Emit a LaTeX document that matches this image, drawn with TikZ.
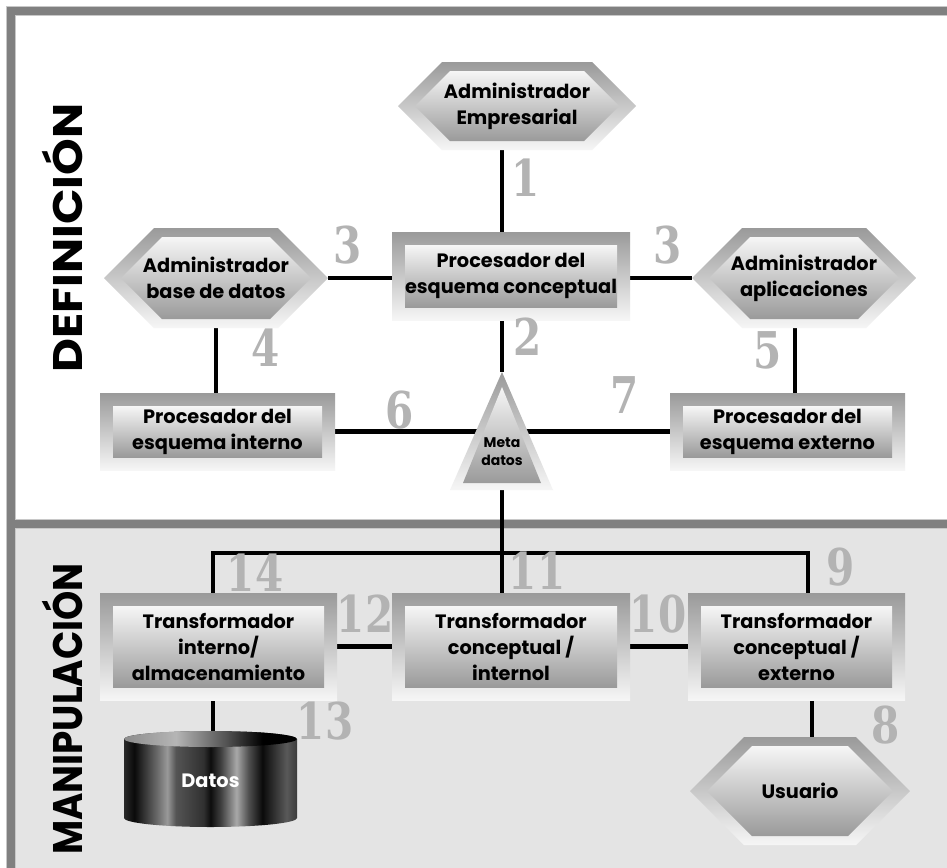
\documentclass[tikz,border=0pt]{standalone}
\usepackage{graphicx}
\usepackage{fontspec}
\newfontfamily\futura{Poppins}
\newfontfamily\stepfont{DejaVu Serif}
\usetikzlibrary{calc}

\definecolor{numgray}{HTML}{B3B3B3}
\definecolor{bordergray}{HTML}{808080}
\definecolor{edgegray}{HTML}{C8C8C8}
\definecolor{panelgray}{HTML}{E4E4E4}
\definecolor{shadedark}{HTML}{9A9A9A}
\definecolor{shadelight}{HTML}{F6F6F6}

% metallic bands of the storage drum
\pgfdeclarehorizontalshading{drumbody}{100bp}{%
  color(0bp)=(black!84); color(25bp)=(black!84); color(28bp)=(black!96);
  color(35bp)=(black!56); color(37.5bp)=(black!40); color(40bp)=(black!67);
  color(48bp)=(black!81); color(50bp)=(black!95); color(53bp)=(black!75);
  color(57.5bp)=(black!34); color(61bp)=(black!69); color(65bp)=(black!96);
  color(72bp)=(black!65); color(75bp)=(black!77); color(100bp)=(black!77)}
\pgfdeclarehorizontalshading{drumtop}{100bp}{%
  color(0bp)=(black!45); color(25bp)=(black!45); color(40bp)=(black!29);
  color(55bp)=(black!69); color(65bp)=(black); color(100bp)=(black)}

\pgfdeclarelayer{panel}
\pgfdeclarelayer{wires}
\pgfsetlayers{panel,wires,main}

\tikzset{
  wire/.style={line width=3.5pt, line join=miter},
  frameout/.style={top color=shadedark, bottom color=shadelight},
  framein/.style={top color=shadelight, bottom color=shadedark},
  lbl/.style={inner sep=0pt, outer sep=0pt, align=center, text=black,
    font=\futura\bfseries\fontsize{14.5}{19.5}\selectfont},
  metalbl/.style={inner sep=0pt, align=center,
    font=\futura\bfseries\fontsize{10.5}{13.5}\selectfont},
  num/.style={inner sep=0pt, text=numgray,
    font=\stepfont\bfseries\fontsize{38}{38}\selectfont},
  secttitle/.style={inner sep=0pt, rotate=90,
    font=\futura\bfseries\fontsize{31}{31}\selectfont},
}
% narrow tall step digits
\newcommand\stepno[1]{\scalebox{0.8}[1]{#1}}

% hexagon given by centre, half width, half height
\newcommand\hexshape[5]{%
  \path[#5] ({#1-(#3)},{#2}) -- ({#1-(#3)+(#4)},{#2-(#4)})
    -- ({#1+(#3)-(#4)},{#2-(#4)}) -- ({#1+(#3)},{#2})
    -- ({#1+(#3)-(#4)},{#2+(#4)}) -- ({#1-(#3)+(#4)},{#2+(#4)}) -- cycle;}
% name, cx, cy, half width, half height, text
\newcommand\panelhex[6]{%
  \hexshape{#2}{#3}{#4}{#5}{frameout}
  \hexshape{#2}{#3}{#4-17}{#5-9}{framein}
  \node[lbl, minimum width={2*(#4)*0.75pt}, minimum height={2*(#5)*0.75pt}]
    (#1) at (#2,#3) {#6};}
% name, x1, y1, x2, y2, text
\newcommand\panelbox[6]{%
  \path[frameout] (#2,#3) rectangle (#4,#5);
  \path[framein] ({#2+13},{#3+13}) rectangle ({#4-13},{#5-13});
  \node[lbl, minimum width={(#4-#2)*0.75pt}, minimum height={(#5-#3)*0.75pt}]
    (#1) at ({(#2+#4)/2},{(#3+#5)/2}) {#6};}

\begin{document}
\begin{tikzpicture}[x=0.75pt, y=-0.75pt]
\useasboundingbox (0,0) rectangle (947,868);

% ---- panels and frame
\begin{pgfonlayer}{panel}
  \fill[white] (0,0) rectangle (947,868);
  \fill[panelgray] (15,524) rectangle (947,868);
  \fill[bordergray] (7,7) rectangle (947,15);
  \fill[bordergray] (7,7) rectangle (15,868);
  \fill[bordergray] (15,520) rectangle (947,528);
  \draw[edgegray, line width=0.75pt] (6.5,868) -- (6.5,6.5) -- (947,6.5);
  \draw[edgegray, line width=0.75pt] (15.5,868) -- (15.5,528.5) -- (947,528.5);
  \draw[edgegray, line width=0.75pt] (15.5,519.5) -- (15.5,15.5) -- (947,15.5);
  \draw[edgegray, line width=0.75pt] (15.5,519.5) -- (947,519.5);
\end{pgfonlayer}

\node[secttitle] (tdef) at (62,238) {\scalebox{1.13}[1]{DEFINICIÓN}};
\node[secttitle] (tman) at (62,709) {\scalebox{0.9}[1]{MANIPULACIÓN}};

% ---- definition layer
\panelhex{ae}{517}{106}{119}{44}{Administrador\\Empresarial}
\panelhex{abd}{216}{278}{112}{50}{Administrador\\base de datos}
\panelhex{aap}{804}{278}{112}{50}{Administrador\\aplicaciones}
\panelbox{pcc}{392}{232}{630}{320}{Procesador del\\esquema conceptual}
\panelbox{pci}{100}{393}{335}{470}{Procesador del\\esquema interno}
\panelbox{pce}{670}{393}{905}{470}{Procesador del\\esquema externo}

% metadata pyramid
\path[frameout] (502,372) -- (553,490) -- (450,490) -- cycle;
\path[framein] (502,387) -- (541,483) -- (463,483) -- cycle;
\node[inner sep=0pt, minimum width={103*0.75pt}, minimum height={118*0.75pt}]
  (meta) at (502,431) {};
\node[metalbl] (metatxt) at (502,452) {Meta\\datos};

% ---- manipulation layer
\panelbox{tia}{100}{593}{337}{700}{Transformador\\interno/\\almacenamiento}
\panelbox{tci}{392}{593}{630}{700}{Transformador\\conceptual /\\internol}
\panelbox{tce}{688}{593}{905}{700}{Transformador\\conceptual /\\externo}
\panelhex{usr}{800}{791}{110}{54}{Usuario}

% storage drum
\shade[shading=drumbody] (124,739) -- (124,818)
  arc[start angle=180, end angle=0, x radius=86.5, y radius=9]
  -- (297,739)
  arc[start angle=360, end angle=180, x radius=86.5, y radius=8] -- cycle;
\shade[shading=drumtop] (210.5,739) ellipse[x radius=86.5, y radius=8];
\node[inner sep=0pt, minimum width={173*0.75pt}, minimum height={96*0.75pt},
  text=white, font=\futura\bfseries\fontsize{14.5}{16}\selectfont]
  (datos) at (210.5,781) {Datos};

% ---- connectors
\coordinate (xr) at (795,0);
\coordinate (xu) at (812,0);
\coordinate (busL) at (213,553);
\coordinate (busR) at (808,553);
\begin{pgfonlayer}{wires}
  \draw[wire] (ae.south -| meta.north) -- (pcc.north -| meta.north);
  \draw[wire] (pcc.south -| meta.north) -- (meta.north);
  \draw[wire] (abd.east) -- (abd.east -| pcc.west);
  \draw[wire] (aap.west -| pcc.east) -- (aap.west);
  \draw[wire] (abd.south) -- (abd.south |- pci.north);
  \draw[wire] (aap.south -| xr) -- (pce.north -| xr);
  \draw[wire] (pci.east) -- (pci.east -| meta.center);
  \draw[wire] (pce.west) -- (pce.west -| meta.center);
  \draw[wire] (meta.south) -- (tci.north -| meta.south);
  \draw[wire] (tia.north -| busL) -- (busL) -- (busR) -- (tce.north -| busR);
  \draw[wire] (tia.east) -- (tci.west);
  \draw[wire] (tci.east) -- (tce.west);
  \draw[wire] (tia.south -| busL) -- (datos.north -| busL);
  \draw[wire] (tce.south -| xu) -- (usr.north -| xu);
\end{pgfonlayer}

% ---- step numbers
\node[num] (n1) at (526,178) {\stepno{1}};
\node[num] (n2) at (528,337) {\stepno{2}};
\node[num] (n3a) at (348,245) {\stepno{3}};
\node[num] (n3b) at (668,245) {\stepno{3}};
\node[num] (n4) at (266,348) {\stepno{4}};
\node[num] (n5) at (768,350) {\stepno{5}};
\node[num] (n6) at (400,410) {\stepno{6}};
\node[num] (n7) at (625,395) {\stepno{7}};
\node[num] (n8) at (886,725) {\stepno{8}};
\node[num] (n9) at (841,567) {\stepno{9}};
\node[num] (n10) at (658,614) {\stepno{10}};
\node[num] (n11) at (537,571) {\stepno{11}};
\node[num] (n12) at (365,614) {\stepno{12}};
\node[num] (n13) at (325,721) {\stepno{13}};
\node[num] (n14) at (255,573) {\stepno{14}};
\end{tikzpicture}
\end{document}
